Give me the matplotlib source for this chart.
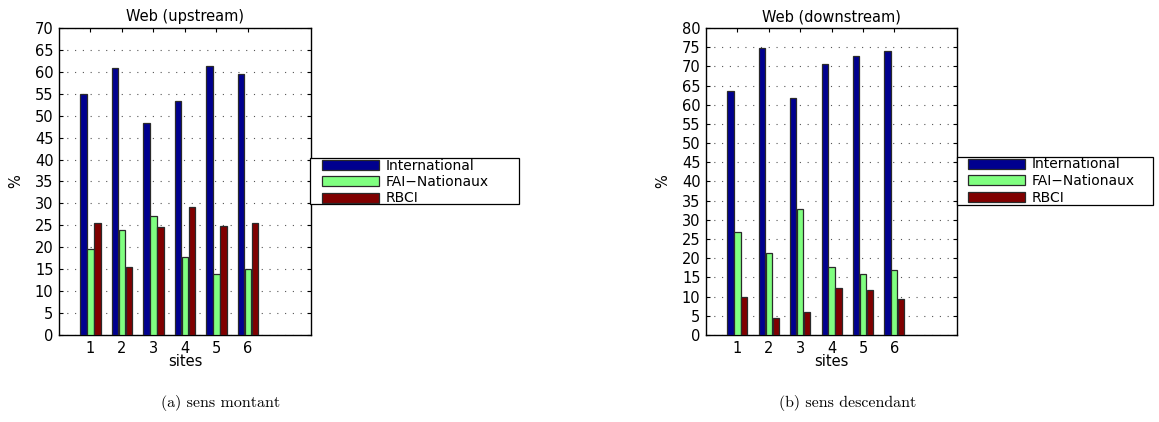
import matplotlib
matplotlib.use("Agg")
import matplotlib.pyplot as plt
from matplotlib.patches import Rectangle
import numpy as np

# ---------------------------------------------------------------------------
# Data
# ---------------------------------------------------------------------------
sites = [1, 2, 3, 4, 5, 6]
series_names = ["International", "FAI\u2212Nationaux", "RBCI"]

up_international = [55.0, 60.9, 48.4, 53.3, 61.3, 59.6]
up_fai = [19.6, 24.0, 27.1, 17.7, 13.9, 15.1]
up_rbci = [25.6, 15.4, 24.7, 29.2, 24.9, 25.6]

down_international = [63.5, 74.8, 61.7, 70.6, 72.7, 74.0]
down_fai = [26.9, 21.3, 32.7, 17.6, 15.9, 16.9]
down_rbci = [9.9, 4.4, 5.9, 12.3, 11.8, 9.4]

titles = ["Web (upstream)", "Web (downstream)"]
captions = ["(a) sens montant", "(b) sens descendant"]
y_max = [70, 80]

colors = ["#00008F", "#80FF80", "#800000"]

plt.rcParams["font.family"] = ["DejaVu Sans"]

W, H = 1159, 422
fig = plt.figure(figsize=(W / 100, H / 100), dpi=100)


def px(x0, y0):
    """pixel position (from top left) -> figure fraction"""
    return x0 / W, 1 - y0 / H


axes_rects = [
    [0.0509, 0.2062, 0.2174, 0.7275],
    [0.6092, 0.2062, 0.2166, 0.7275],
]
# legend boxes in pixels: left, top, right, bottom ; handle start x
legend_boxes = [(310, 158, 519, 204, 322), (957, 157, 1153, 205, 968)]
caption_x = [0.190, 0.731]

panels = [
    (up_international, up_fai, up_rbci),
    (down_international, down_fai, down_rbci),
]

x = np.array(sites, dtype=float)
width = 0.2
offsets = [-0.22, 0.0, 0.22]
fs = 10.5

for i, series in enumerate(panels):
    ax = fig.add_axes(axes_rects[i])
    handles = []
    for vals, off, col, name in zip(series, offsets, colors, series_names):
        h = ax.bar(x + off, vals, width=width, color=col, edgecolor="#2a2a2a",
                   linewidth=0.9, label=name, zorder=3)
        handles.append(h)

    ax.set_xlim(0, 8)
    ax.set_ylim(0, y_max[i])
    ax.set_xticks(sites)
    ax.set_yticks(np.arange(0, y_max[i] + 1, 5))
    ax.tick_params(direction="in", top=True, right=True, labelsize=fs,
                   length=3, width=0.8, pad=4)
    ax.grid(True, axis="y", color="#555555", linestyle=(0, (1, 6)),
            linewidth=0.8, zorder=0)
    for spine in ax.spines.values():
        spine.set_linewidth(1.0)
    ax.set_title(titles[i], fontsize=fs, pad=5)
    ax.set_xlabel("sites", fontsize=fs, labelpad=-1)
    ax.set_ylabel("%", fontsize=fs, labelpad=8)

    # legend box drawn by hand so its size follows the reference
    bx0, by0, bx1, by1, hx = legend_boxes[i]
    fx0, fy1 = px(bx0, by1)
    fx1, fy0 = px(bx1, by0)
    box = Rectangle((fx0, fy1), fx1 - fx0, fy0 - fy1, transform=fig.transFigure,
                    facecolor="white", edgecolor="black", linewidth=0.9, zorder=4)
    fig.add_artist(box)

    leg = fig.legend(handles=handles, labels=series_names, loc="upper left",
                     bbox_to_anchor=px(hx, by0 + 0.5), bbox_transform=fig.transFigure,
                     fontsize=10, frameon=False, borderpad=0, labelspacing=0.18,
                     handlelength=4.1, handleheight=0.72, handletextpad=0.5,
                     borderaxespad=0)
    leg.set_zorder(5)

    fig.text(caption_x[i], 0.045, captions[i], ha="center", va="center",
             fontsize=11.5, family=["cmr10", "DejaVu Serif"])

fig.savefig("out.png", dpi=100)
